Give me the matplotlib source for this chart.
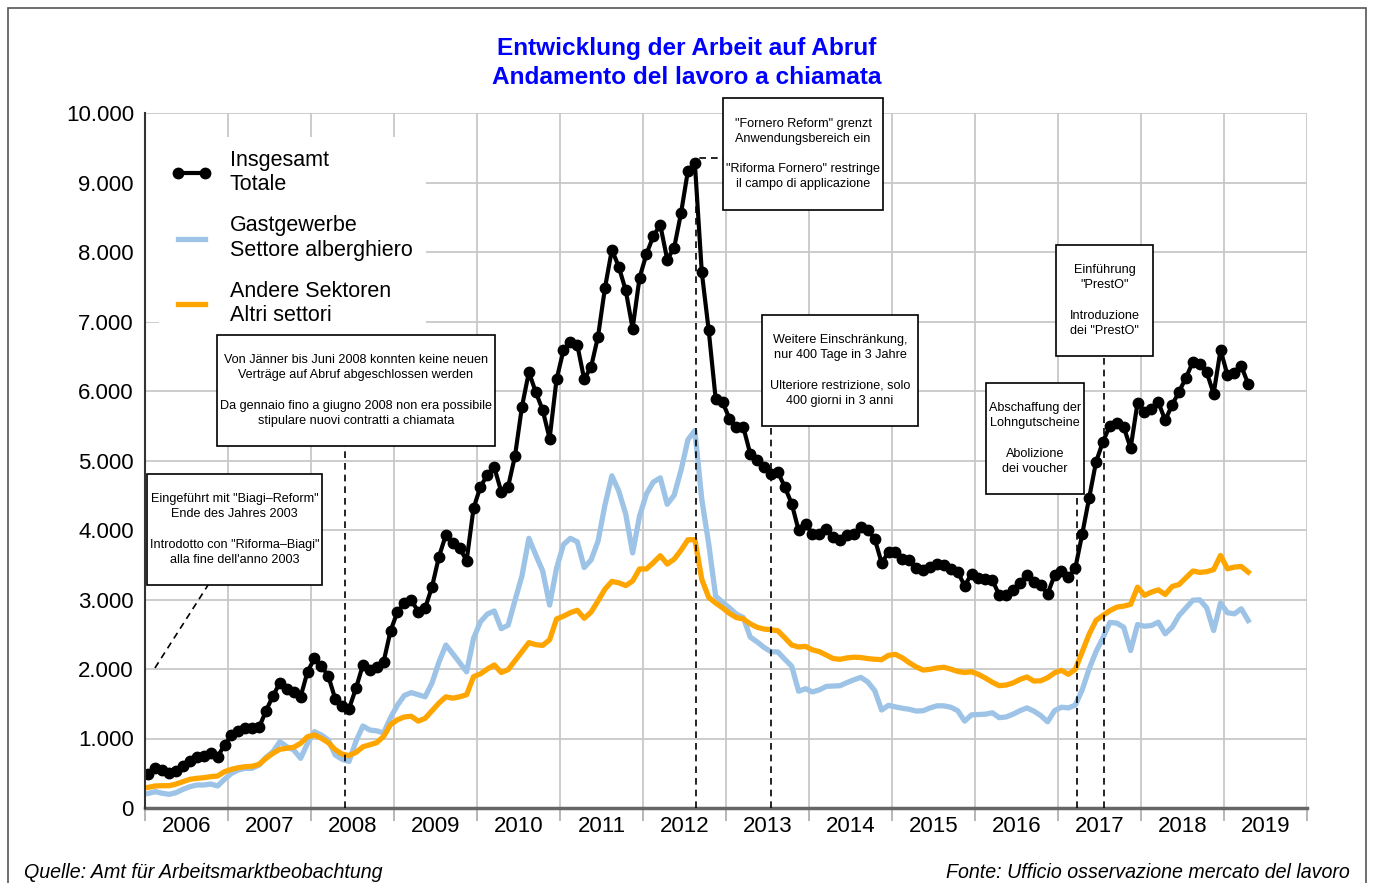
import numpy as np
import matplotlib
matplotlib.use('Agg')
import matplotlib.pyplot as plt
from matplotlib.patches import Rectangle
from matplotlib.ticker import FuncFormatter, FixedLocator

plt.rcParams['font.family'] = ['Liberation Sans', 'DejaVu Sans']

# monthly values, Jan 2006 - Apr 2019
totale = [489, 571, 547, 508, 532, 604, 681, 738, 748, 787, 738, 907,
          1050, 1112, 1147, 1147, 1161, 1400, 1612, 1803, 1708, 1674, 1602, 1961,
          2154, 2043, 1899, 1570, 1470, 1430, 1722, 2058, 1986, 2033, 2105, 2547,
          2825, 2946, 2993, 2825, 2874, 3184, 3616, 3929, 3809, 3737, 3559, 4313,
          4624, 4792, 4903, 4552, 4624, 5070, 5775, 6271, 5984, 5723, 5315, 6167,
          6585, 6700, 6664, 6167, 6350, 6784, 7484, 8033, 7787, 7448, 6899, 7630,
          7970, 8232, 8388, 7892, 8059, 8561, 9172, 9277, 7709, 6873, 5890, 5842,
          5602, 5482, 5482, 5098, 5002, 4906, 4811, 4835, 4619, 4379, 3995, 4082,
          3947, 3947, 4019, 3899, 3851, 3923, 3947, 4043, 3995, 3875, 3525, 3683,
          3683, 3587, 3570, 3450, 3420, 3470, 3510, 3500, 3440, 3400, 3195, 3370,
          3310, 3300, 3280, 3065, 3065, 3140, 3240, 3350, 3250, 3210, 3080, 3350,
          3410, 3320, 3450, 3940, 4460, 4980, 5270, 5500, 5540, 5480, 5180, 5830,
          5700, 5740, 5840, 5580, 5800, 5990, 6190, 6420, 6390, 6270, 5960, 6590,
          6230, 6260, 6360, 6100]

gastgewerbe = [211, 235, 211, 197, 221, 269, 307, 331, 331, 345, 317, 413,
               499, 547, 571, 571, 619, 729, 810, 954, 882, 835, 715, 931,
               1098, 1050, 979, 763, 700, 670, 960, 1180, 1122, 1110, 1080, 1300,
               1480, 1620, 1660, 1630, 1600, 1800, 2100, 2345, 2220, 2090, 1960, 2440,
               2680, 2790, 2835, 2580, 2630, 2990, 3340, 3880, 3640, 3410, 2920, 3450,
               3790, 3880, 3830, 3460, 3570, 3840, 4360, 4780, 4560, 4230, 3670, 4200,
               4520, 4690, 4750, 4370, 4500, 4860, 5300, 5430, 4440, 3800, 3050, 2960,
               2880, 2790, 2740, 2460, 2390, 2310, 2250, 2245, 2140, 2040, 1680, 1717,
               1670, 1700, 1750, 1755, 1760, 1805, 1845, 1880, 1813, 1690, 1410, 1477,
               1455, 1435, 1420, 1395, 1400, 1440, 1470, 1470, 1450, 1400, 1250, 1340,
               1345, 1350, 1370, 1300, 1310, 1350, 1400, 1440, 1395, 1330, 1240, 1400,
               1450, 1440, 1480, 1700, 2000, 2250, 2450, 2670, 2660, 2600, 2266, 2640,
               2615, 2626, 2674, 2506, 2600, 2770, 2880, 2990, 2995, 2880, 2554, 2950,
               2810, 2794, 2866, 2698]

andere = [298, 317, 321, 321, 345, 379, 413, 427, 436, 451, 461, 523,
          557, 580, 595, 600, 629, 715, 787, 845, 860, 874, 931, 1026,
          1050, 1003, 940, 840, 775, 755, 800, 880, 910, 940, 1030, 1200,
          1270, 1310, 1320, 1250, 1290, 1400, 1510, 1600, 1580, 1600, 1630, 1890,
          1930, 2000, 2058, 1950, 1990, 2120, 2250, 2380, 2350, 2340, 2420, 2720,
          2760, 2810, 2845, 2730, 2820, 2980, 3150, 3260, 3240, 3200, 3266, 3440,
          3440, 3530, 3630, 3510, 3580, 3710, 3860, 3860, 3290, 3030, 2950, 2880,
          2800, 2740, 2720, 2650, 2600, 2575, 2565, 2550, 2450, 2345, 2317, 2326,
          2275, 2250, 2200, 2150, 2140, 2160, 2170, 2165, 2150, 2140, 2135, 2197,
          2210, 2160, 2090, 2030, 1985, 1995, 2015, 2025, 1998, 1965, 1950, 1960,
          1923, 1870, 1810, 1760, 1769, 1800, 1850, 1885, 1827, 1830, 1875, 1945,
          1981, 1923, 1996, 2250, 2500, 2700, 2770, 2840, 2890, 2905, 2930, 3178,
          3060, 3106, 3139, 3072, 3187, 3216, 3312, 3410, 3390, 3400, 3430, 3634,
          3442, 3466, 3475, 3394]

years = list(range(2006, 2020))

# mid-month position in fractional years
x = 2006 + (np.arange(len(totale)) + 0.5) / 12

fig = plt.figure(figsize=(13.73, 8.83), dpi=100)
ax = fig.add_axes([145/1373, 1 - 808/883, (1307 - 145)/1373, (808 - 113)/883])

ax.plot(x, gastgewerbe, color='#9dc3e6', lw=3.8, zorder=3,
        label='Gastgewerbe\nSettore alberghiero', solid_joinstyle='round')
ax.plot(x, andere, color='#ffa500', lw=3.8, zorder=4,
        label='Andere Sektoren\nAltri settori', solid_joinstyle='round')
ax.plot(x, totale, color='black', lw=3, marker='o', ms=7.5, zorder=5,
        label='Insgesamt\nTotale')

ax.set_xlim(2006, 2020)
ax.set_ylim(0, 10000)

ax.xaxis.set_major_locator(FixedLocator(range(2006, 2021)))
ax.xaxis.set_minor_locator(FixedLocator([y + 0.5 for y in years]))
ax.set_xticklabels([])
ax.set_xticklabels([str(y) for y in years], minor=True)
ax.tick_params(axis='x', which='major', length=9, color='#aaaaaa', width=1.2)
ax.tick_params(axis='x', which='minor', length=0, labelsize=16, pad=6)
ax.set_yticks(range(0, 10001, 1000))
ax.yaxis.set_major_formatter(FuncFormatter(lambda v, p: f'{int(v):,}'.replace(',', '.')))
ax.tick_params(axis='y', length=0, labelsize=16, pad=8)

ax.grid(True, which='major', color='#c8c8c8', lw=1.3, zorder=0)
ax.set_axisbelow(True)
for s in ['top', 'right']:
    ax.spines[s].set_visible(False)
ax.spines['left'].set_color('#333333')
ax.spines['left'].set_linewidth(1.5)
ax.spines['left'].set_zorder(12)
ax.spines['bottom'].set_color('#666666')
ax.spines['bottom'].set_linewidth(2.5)

# annotation boxes
def note(x0, x1, y0, y1, text):
    ax.add_patch(Rectangle((x0, y0), x1 - x0, y1 - y0, facecolor='white',
                           edgecolor='black', lw=1.2, zorder=9, clip_on=False))
    ax.text((x0 + x1) / 2, (y0 + y1) / 2, text, ha='center', va='center',
            fontsize=9.1, linespacing=1.35, zorder=10, clip_on=False)

dash = dict(color='black', lw=1.2, ls=(0, (4, 3)), zorder=6, clip_on=False)

note(2006.024, 2008.133, 3209, 4806,
     'Eingeführt mit "Biagi–Reform"\nEnde des Jahres 2003\n\n'
     'Introdotto con "Riforma–Biagi"\nalla fine dell\'anno 2003')
ax.plot([2006.12, 2006.76], [2015, 3209], **dash)

note(2006.867, 2010.217, 5209, 6806,
     'Von Jänner bis Juni 2008 konnten keine neuen\nVerträge auf Abruf abgeschlossen werden\n\n'
     'Da gennaio fino a giugno 2008 non era possibile\nstipulare nuovi contratti a chiamata')
ax.plot([2008.41, 2008.41], [0, 5209], **dash)

note(2012.964, 2014.892, 8605, 10217,
     '"Fornero Reform" grenzt\nAnwendungsbereich ein\n\n'
     '"Riforma Fornero" restringe\nil campo di applicazione')
ax.plot([2012.64, 2012.64, 2012.964], [0, 9353, 9353], **dash)

note(2013.434, 2015.313, 5497, 7094,
     'Weitere Einschränkung,\nnur 400 Tage in 3 Jahre\n\n'
     'Ulteriore restrizione, solo\n400 giorni in 3 anni')
ax.plot([2013.54, 2013.54], [0, 5497], **dash)

note(2016.133, 2017.313, 4518, 6116,
     'Abschaffung der\nLohngutscheine\n\nAbolizione\ndei voucher')
ax.plot([2017.23, 2017.23], [0, 4518], **dash)

note(2016.976, 2018.145, 6504, 8101,
     'Einführung\n"PrestO"\n\nIntroduzione\ndei "PrestO"')
ax.plot([2017.55, 2017.55], [0, 6504], **dash)

# white area behind the legend, reaching the left axis
ax.add_patch(Rectangle((0, 0.7), 0.24, 0.265, transform=ax.transAxes,
                       facecolor='white', edgecolor='none', zorder=7.5))

h, l = ax.get_legend_handles_labels()
order = [2, 0, 1]
leg = ax.legend([h[i] for i in order], [l[i] for i in order], loc='upper left',
                bbox_to_anchor=(0.012, 0.965), borderaxespad=0, borderpad=0.6,
                fontsize=15.5, handlelength=1.86, handletextpad=0.84,
                labelspacing=0.93, numpoints=2, frameon=True, fancybox=False,
                facecolor='white', edgecolor='none', framealpha=1)
leg.set_zorder(8)

fig.text(0.5, 1 - 49/883, 'Entwicklung der Arbeit auf Abruf', ha='center', va='center',
         color='#0000ff', fontsize=17.6, fontweight='bold')
fig.text(0.5, 1 - 77/883, 'Andamento del lavoro a chiamata', ha='center', va='center',
         color='#0000ff', fontsize=17.6, fontweight='bold')

fig.text(24/1373, 1 - 872/883, 'Quelle: Amt für Arbeitsmarktbeobachtung',
         ha='left', va='center', fontsize=14.1, style='italic')
fig.text(1350/1373, 1 - 872/883, 'Fonte: Ufficio osservazione mercato del lavoro',
         ha='right', va='center', fontsize=14.1, style='italic')

fig.patches.append(Rectangle((8/1373, -0.05), (1366 - 8)/1373, 1 - 8/883 + 0.05,
                             transform=fig.transFigure, fill=False,
                             edgecolor='#555555', lw=1.2))

fig.savefig('out.png', dpi=100)
